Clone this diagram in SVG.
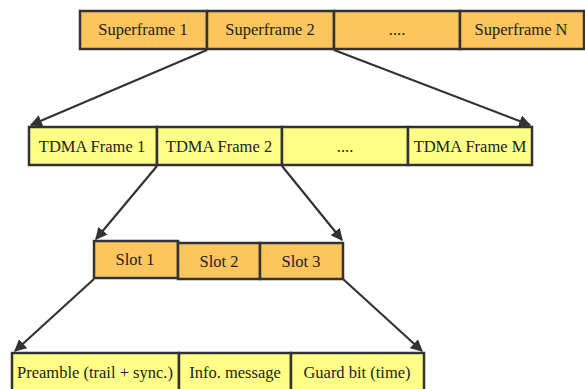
<svg xmlns="http://www.w3.org/2000/svg" width="585" height="389" viewBox="0 0 585 389">
<style>
.o{fill:#FDC55E;stroke:#333;stroke-width:2.5}
.y{fill:#FFFF88;stroke:#333;stroke-width:2.5}
text{font-family:"Liberation Serif","DejaVu Serif",serif;font-size:16.5px;fill:#222;text-anchor:middle}
.c{stroke:#333;stroke-width:2.2;fill:none;marker-end:url(#ah)}
</style>
<defs>
<marker id="ah" viewBox="0 0 10 10" refX="9" refY="5" markerWidth="5.5" markerHeight="5.5" orient="auto" markerUnits="strokeWidth">
<path d="M0,0 L10,5 L0,10 z" fill="#333"/>
</marker>
</defs>
<rect width="585" height="389" fill="#fff"/>
<g id="connectors">
<line class="c" x1="207" y1="50" x2="31" y2="125"/>
<line class="c" x1="334" y1="50" x2="530" y2="125"/>
<line class="c" x1="157" y1="166" x2="96" y2="239"/>
<line class="c" x1="282" y1="166" x2="342" y2="240"/>
<line class="c" x1="94" y1="279" x2="15" y2="351"/>
<line class="c" x1="343" y1="279" x2="422" y2="351"/>
</g>
<g id="sf1"><rect class="o" x="80" y="11" width="127" height="38"/><text x="143" y="35">Superframe 1</text></g>
<g id="sf2"><rect class="o" x="207" y="11" width="127" height="38"/><text x="270" y="35">Superframe 2</text></g>
<g id="sfdots"><rect class="o" x="334" y="11" width="126" height="38"/><text x="397" y="35">....</text></g>
<g id="sfN"><rect class="o" x="460" y="11" width="124" height="38"/><text x="521" y="35">Superframe N</text></g>
<g id="tf1"><rect class="y" x="29" y="127" width="128" height="38"/><text x="92" y="152">TDMA Frame 1</text></g>
<g id="tf2"><rect class="y" x="157" y="127" width="125" height="38"/><text x="219" y="152">TDMA Frame 2</text></g>
<g id="tfdots"><rect class="y" x="282" y="127" width="126" height="38"/><text x="345" y="152">....</text></g>
<g id="tfM"><rect class="y" x="408" y="127" width="124" height="38"/><text x="470" y="152">TDMA Frame M</text></g>
<g id="slot1"><rect class="o" x="94" y="241" width="84" height="37"/><text x="135" y="265">Slot 1</text></g>
<g id="slot2"><rect class="o" x="178" y="243" width="82" height="36"/><text x="219" y="267">Slot 2</text></g>
<g id="slot3"><rect class="o" x="260" y="243" width="83" height="36"/><text x="301" y="267">Slot 3</text></g>
<g id="preamble"><rect class="y" x="12" y="353" width="167" height="42"/><text x="95" y="378">Preamble (trail + sync.)</text></g>
<g id="info"><rect class="y" x="179" y="353" width="112" height="42"/><text x="235" y="378">Info. message</text></g>
<g id="guard"><rect class="y" x="291" y="353" width="133" height="42"/><text x="357" y="378">Guard bit (time)</text></g>
</svg>
